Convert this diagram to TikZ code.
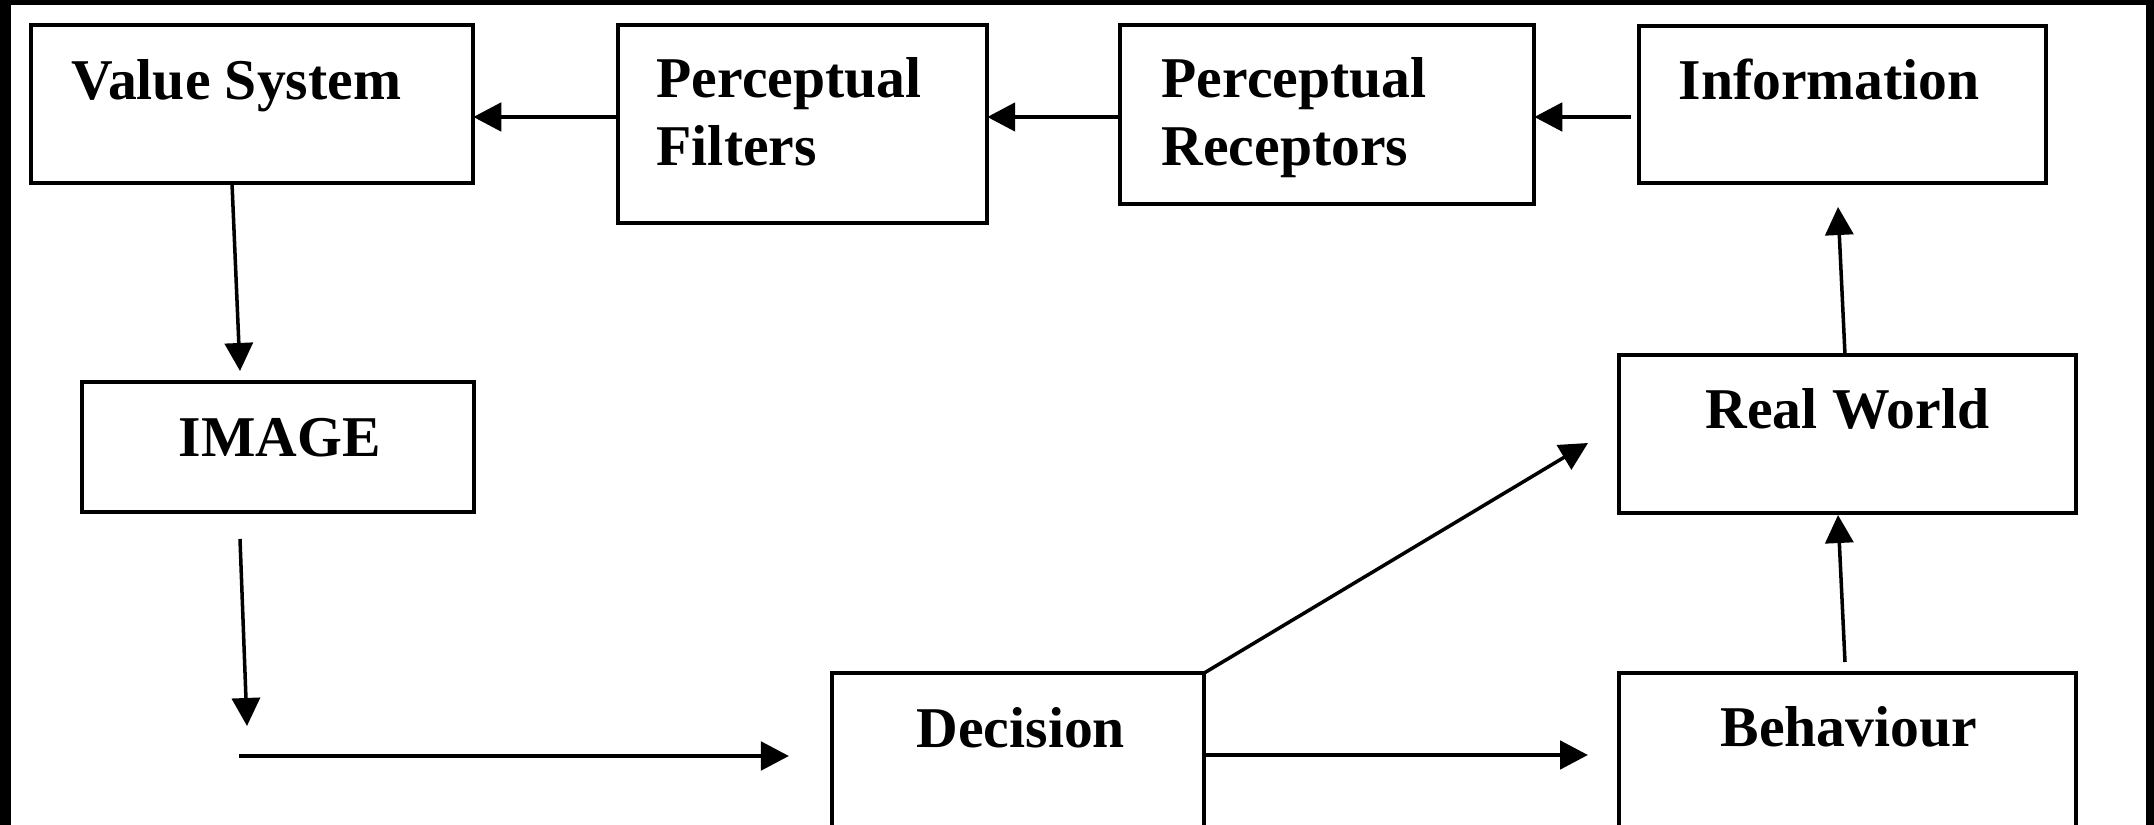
\documentclass[tikz,border=0pt]{standalone}
\usepackage{fontspec}
\setmainfont{Liberation Serif}
\usetikzlibrary{arrows.meta}
\begin{document}
\begin{tikzpicture}[x=0.01cm,y=-0.01cm,
  box/.style={draw, line width=1.05pt, inner sep=0pt, outer sep=0pt, anchor=north west},
  lbl/.style={anchor=base west, inner sep=0pt, font=\fontsize{16.4}{19}\selectfont\bfseries},
  harr/.style={line width=1.4pt, -{Triangle[length=0.28cm,width=0.28cm]}},
  varr/.style={line width=1.0pt, -{Triangle[length=0.28cm,width=0.28cm]}}]
\useasboundingbox (0,0) rectangle (2154,825);
\clip (0,0) rectangle (2154,825);
\fill[white] (0,0) rectangle (2154,825);
% black frame
\fill[black] (0,0) rectangle (2154,5);
\fill[black] (0,0) rectangle (11,825);
\fill[black] (2146,0) rectangle (2154,825);
% boxes
\node[box, minimum width=4.42cm, minimum height=1.58cm] (vs) at (31,25) {};
\node[box, minimum width=3.69cm, minimum height=1.98cm] (pf) at (618,25) {};
\node[box, minimum width=4.14cm, minimum height=1.79cm] (pr) at (1120,25) {};
\node[box, minimum width=4.07cm, minimum height=1.57cm] (info) at (1639,26) {};
\node[box, minimum width=3.92cm, minimum height=1.30cm] (img) at (82,382) {};
\node[box, minimum width=4.57cm, minimum height=1.58cm] (rw) at (1619,355) {};
\node[box, minimum width=3.72cm, minimum height=3.00cm] (dec) at (832,673) {};
\node[box, minimum width=4.57cm, minimum height=3.00cm] (beh) at (1619,673) {};
% labels
\node[lbl] (tvs) at (71,100) {Value System};
\node[lbl] (tpf1) at (656,98) {Perceptual};
\node[lbl] (tpf2) at (656,166) {Filters};
\node[lbl] (tpr1) at (1161,98) {Perceptual};
\node[lbl] (tpr2) at (1161,166) {Receptors};
\node[lbl] (tinfo) at (1678,100) {Information};
\node[lbl] (timg) at (178,457) {IMAGE};
\node[lbl] (trw) at (1705,429) {Real World};
\node[lbl] (tdec) at (916,748) {Decision};
\node[lbl] (tbeh) at (1720,747) {Behaviour};
% connector helper coordinates
\coordinate (ytop) at (0,117);
\coordinate (s1) at (232,183);
\coordinate (t1) at (240,371);
\coordinate (s2) at (240,539);
\coordinate (t2) at (247,726);
\coordinate (s3) at (239,756);
\coordinate (t3) at (789,756);
\coordinate (ymid) at (0,755);
\coordinate (t4) at (1588,755);
\coordinate (t5) at (1588,443);
\coordinate (s6) at (1845,662);
\coordinate (t6) at (1838,515);
\coordinate (s7) at (1845,355);
\coordinate (t7) at (1838,207);
% connectors
\draw[harr] (pf.west |- ytop) -- (vs.east |- ytop);
\draw[harr] (pr.west |- ytop) -- (pf.east |- ytop);
\draw[harr] ([xshift=-0.08cm]info.west |- ytop) -- (pr.east |- ytop);
\draw[varr] (s1) -- (t1);
\draw[varr] (s2) -- (t2);
\draw[harr] (s3) -- (t3);
\draw[harr] (dec.east |- ymid) -- (t4);
\draw[varr] (dec.north east) -- (t5);
\draw[varr] (s6) -- (t6);
\draw[varr] (s7) -- (t7);
\end{tikzpicture}
\end{document}
